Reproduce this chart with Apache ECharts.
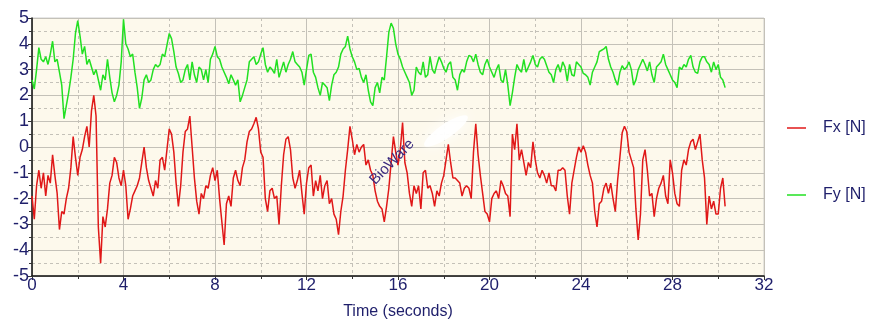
<!DOCTYPE html>
<html>
<head>
<meta charset="utf-8">
<script src="https://cdn.jsdelivr.net/npm/echarts@6/dist/echarts.min.js"></script>
<style>
  html, body { margin: 0; padding: 0; background: #ffffff; }
  #chart { width: 874px; height: 322px; }
</style>
</head>
<body>
<div id="chart"></div>
<script>
// Sampling interval of the force recording (seconds)
const SAMPLE_DT = 0.1;

// Fx [N], one value per sample starting at t = 0
const fxValues = [
  -1.9, -2.8, -1.5, -0.9, -1.6, -1.0, -1.9, -1.1, -1.4, -0.3,
  -1.1, -1.8, -3.2, -2.5, -2.6, -2.0, -1.6, -0.8, 0.4, -0.4,
  -1.1, -0.4, -0.1, 0.4, 0.8, 0.0, 1.4, 2.0, 1.2, -3.1,
  -4.5, -2.7, -3.1, -2.4, -1.4, -1.1, -0.4, -0.6, -1.2, -1.5,
  -0.9, -1.5, -2.8, -2.4, -1.9, -1.7, -1.5, -1.2, -0.6, 0.0,
  -0.8, -1.3, -1.6, -1.9, -1.3, -1.6, -0.5, -0.4, -0.9, -0.1,
  0.7, 0.5, -0.2, -1.4, -2.3, -1.5, -0.2, 0.6, 0.7, 1.2,
  0.0, -1.2, -2.1, -2.6, -1.8, -2.0, -1.5, -1.6, -1.1, -0.8,
  -1.3, -0.9, -2.0, -2.9, -3.8, -2.2, -1.9, -2.3, -1.2, -0.9,
  -1.3, -1.5, -0.8, -0.5, 0.2, 0.6, 0.7, 0.9, 1.15, 0.7,
  -0.2, -0.4, -2.0, -2.5, -1.7, -1.6, -2.0, -1.9, -3.0, -1.5,
  -0.3, 0.3, 0.4, -0.1, -1.2, -1.6, -1.3, -0.9, -1.8, -2.6,
  -1.4, -0.8, -0.7, -1.9, -1.3, -1.7, -1.1, -2.0, -1.5, -1.3,
  -2.2, -2.0, -2.6, -2.8, -3.4, -2.5, -1.9, -0.9, -0.1, 0.8,
  0.3, -0.3, 0.1, -0.2, 0.0, 0.1, -0.7, -0.5, -0.9, -1.1,
  -1.7, -2.1, -2.3, -2.4, -2.9, -2.3, -1.6, -0.6, 0.4, -0.2,
  -0.7, -0.1, 0.95, -0.6, -1.0, -1.8, -2.3, -1.5, -1.8, -1.5,
  -2.4, -1.0, -0.9, -1.6, -1.5, -1.8, -2.3, -1.7, -1.9, -1.4,
  -1.1, -0.5, 0.1, -0.6, -1.2, -1.2, -1.3, -1.4, -1.9, -1.6,
  -1.5, -1.6, -2.0, -0.2, 0.9, -0.3, -1.1, -1.8, -2.5, -2.6,
  -2.9, -2.0, -1.8, -1.7, -2.0, -1.3, -1.5, -1.8, -1.9, -2.7,
  0.5, -0.1, 0.9, -0.5, -0.1, -0.6, -1.1, -0.6, -0.8, 0.2,
  -0.5, -1.0, -1.2, -0.9, -1.1, -1.4, -1.0, -1.5, -1.5, -1.7,
  -0.9, -0.9, -0.8, -0.9, -1.9, -2.6, -1.4, -0.9, -0.4, 0.0,
  -0.2, 0.05, -0.2, -0.7, -1.1, -1.4, -2.5, -3.1, -2.2, -2.1,
  -1.6, -1.4, -1.8, -1.4, -2.0, -2.5, -1.3, -0.4, 0.55, 0.8,
  0.6, -0.2, -0.5, -0.8, -2.4, -3.6, -2.6, -0.5, -0.1, -0.9,
  -1.9, -1.8, -2.7, -2.0, -1.6, -1.4, -1.1, -1.9, -2.2, -0.5,
  -1.0, -1.8, -2.2, -2.3, -0.9, -0.5, -0.7, -0.1, 0.2, 0.3,
  -0.1, 0.2, 0.5, -0.5, -1.2, -3.0, -1.9, -2.4, -2.1, -2.6,
  -2.6, -1.6, -1.2, -2.3
];

// Fy [N], one value per sample starting at t = 0
const fyValues = [
  2.6, 2.25, 3.0, 3.85, 3.4, 3.3, 3.5, 3.2, 3.6, 4.1,
  3.3, 3.4, 2.9, 2.4, 1.1, 1.6, 2.1, 2.7, 3.4, 4.4,
  4.9, 4.3, 3.6, 3.9, 3.2, 3.4, 3.1, 2.8, 3.0, 2.6,
  2.2, 2.8, 2.6, 3.4, 2.7, 2.1, 1.75, 2.0, 2.4, 3.3,
  4.95, 4.0, 3.8, 3.5, 3.6, 2.9, 2.3, 1.5, 1.9, 2.6,
  2.8, 2.5, 2.6, 3.0, 3.2, 3.1, 3.2, 3.6, 3.5, 3.95,
  4.4, 4.2, 3.7, 3.1, 2.85, 2.5, 2.6, 3.0, 3.2, 2.6,
  3.3, 2.8, 2.5, 3.1, 3.0, 2.6, 3.0, 2.5, 3.4, 3.6,
  3.9, 3.5, 3.4, 3.1, 2.9, 2.7, 2.45, 2.8, 2.6, 2.4,
  2.6, 1.75, 2.0, 2.3, 2.6, 3.3, 3.4, 3.5, 3.2, 3.3,
  3.6, 3.85, 3.2, 2.9, 3.1, 3.0, 2.85, 3.4, 2.7, 3.0,
  3.3, 2.9, 3.2, 3.4, 3.7, 3.3, 3.2, 3.1, 2.9, 2.4,
  3.0, 3.55, 3.6, 2.9, 2.7, 2.3, 2.0, 2.5, 2.4, 2.3,
  1.8, 2.4, 2.8, 2.9, 3.1, 3.6, 3.8, 3.9, 4.3, 3.8,
  3.5, 3.3, 3.0, 3.05, 2.7, 2.5, 2.8, 2.2, 1.75, 1.6,
  2.3, 2.5, 2.1, 2.7, 2.6, 3.5, 4.45, 4.8, 4.6, 4.0,
  3.6, 3.4, 3.1, 2.9, 2.7, 2.5, 2.0, 2.2, 3.1, 2.9,
  2.8, 3.3, 2.7, 2.8, 3.5, 3.0, 2.85, 3.2, 3.5, 3.3,
  3.05, 2.9, 3.2, 3.3, 2.7, 2.6, 2.2, 2.8, 3.0, 2.9,
  3.3, 3.55, 3.5, 3.3, 3.6, 3.2, 2.9, 2.8, 3.2, 3.4,
  3.1, 2.9, 2.7, 3.0, 3.2, 2.6, 2.5, 3.0, 2.4, 1.6,
  2.1, 2.7, 3.2, 3.0, 2.9, 3.4, 2.9, 3.1, 3.3, 3.55,
  3.2, 3.1, 3.4, 3.5, 3.4, 3.15, 2.9, 2.8, 2.5, 3.0,
  3.2, 2.9, 3.3, 3.1, 2.55, 3.2, 2.8, 2.75, 3.3, 3.2,
  3.1, 2.85, 2.8, 2.7, 2.4, 2.9, 3.1, 3.3, 3.7, 3.75,
  3.8, 3.9, 3.4, 3.1, 2.9, 2.6, 2.4, 2.9, 3.15, 3.0,
  3.1, 3.3, 3.0, 2.4, 2.6, 3.0, 3.2, 3.4, 3.2, 2.95,
  3.3, 2.8, 2.5, 3.1, 3.2, 3.3, 3.6, 3.2, 3.0, 2.8,
  2.6, 2.5, 2.3, 3.1, 3.0, 3.2, 3.1, 3.4, 3.55, 3.1,
  2.9, 2.85, 3.3, 3.5, 3.5, 3.3, 3.2, 2.9, 3.3, 3.0,
  3.2, 2.7, 2.6, 2.3
];

const seriesNames = ['Fx [N]', 'Fy [N]'];

// Pair each sample with its time stamp
function withTime(values) {
  return values.map((v, i) => [Math.round(i * SAMPLE_DT * 10) / 10, v]);
}

const NAVY = '#1f1f6b';
const GRID_COLOR = '#c4c1b8';
const FONT = 'Liberation Sans, Arial, sans-serif';

const chart = echarts.init(document.getElementById('chart'), null, { renderer: 'canvas' });

chart.setOption({
  animation: false,
  backgroundColor: '#ffffff',
  grid: {
    left: 32, right: 110, top: 18, bottom: 46,
    outerBoundsMode: 'none',
    containLabel: false,
    show: true,
    backgroundColor: '#fdf9ec',
    borderColor: '#cfcfcf',
    borderWidth: 1
  },
  legend: {
    orient: 'vertical',
    left: 782,
    top: 115,
    itemGap: 51,
    itemWidth: 19,
    itemHeight: 1.5,
    icon: 'rect',
    textStyle: {
      fontFamily: FONT,
      fontSize: 16,
      color: NAVY,
      padding: [0, 0, 0, 12]
    },
    data: seriesNames
  },
  xAxis: {
    type: 'value',
    min: 0, max: 32, interval: 4,
    name: 'Time (seconds)',
    nameLocation: 'middle',
    nameGap: 28,
    nameTextStyle: {
      fontFamily: FONT,
      fontSize: 16,
      color: NAVY
    },
    axisLine: { onZero: false, lineStyle: { color: '#111111', width: 1.5 } },
    axisTick: { show: true, length: 4, lineStyle: { color: '#333333' } },
    minorTick: { show: true, splitNumber: 2, length: 3, lineStyle: { color: '#333333' } },
    axisLabel: {
      fontFamily: FONT,
      fontSize: 17,
      color: NAVY,
      margin: 1
    },
    splitLine: { show: true, lineStyle: { color: GRID_COLOR, width: 1 } },
    minorSplitLine: { show: true, lineStyle: { color: GRID_COLOR, type: [3, 3], width: 1 } }
  },
  yAxis: {
    type: 'value',
    min: -5, max: 5, interval: 1,
    axisLine: { onZero: false, lineStyle: { color: '#111111', width: 1.5 } },
    axisTick: { show: true, length: 4, lineStyle: { color: '#333333' } },
    minorTick: { show: true, splitNumber: 2, length: 3, lineStyle: { color: '#333333' } },
    axisLabel: {
      fontFamily: FONT,
      fontSize: 18,
      color: NAVY,
      margin: 3
    },
    splitLine: { show: true, lineStyle: { color: GRID_COLOR, width: 1 } },
    minorSplitLine: { show: true, lineStyle: { color: GRID_COLOR, type: [3, 3], width: 1 } }
  },
  graphic: [
    {
      type: 'ellipse',
      shape: { cx: 0, cy: 0, rx: 26, ry: 7 },
      x: 446, y: 131,
      rotation: 0.6,
      style: { fill: '#ffffff', shadowBlur: 14, shadowColor: '#ffffff', opacity: 0.9 },
      z: 1,
      silent: true
    },
    {
      type: 'text',
      x: 392, y: 162,
      rotation: 0.8,
      style: {
        text: 'BioWare',
        fontFamily: FONT,
        fontSize: 15,
        fill: '#3b2a7e',
        textAlign: 'center',
        textVerticalAlign: 'middle'
      },
      z: 10,
      silent: true
    }
  ],
  series: [
    {
      name: seriesNames[0],
      type: 'line',
      data: withTime(fxValues),
      showSymbol: false,
      symbol: 'none',
      lineStyle: { color: '#e01818', width: 1.5 },
      itemStyle: { color: '#e01818' },
      z: 3
    },
    {
      name: seriesNames[1],
      type: 'line',
      data: withTime(fyValues),
      showSymbol: false,
      symbol: 'none',
      lineStyle: { color: '#22e022', width: 1.5 },
      itemStyle: { color: '#22e022' },
      z: 3
    }
  ]
});
</script>
</body>
</html>
